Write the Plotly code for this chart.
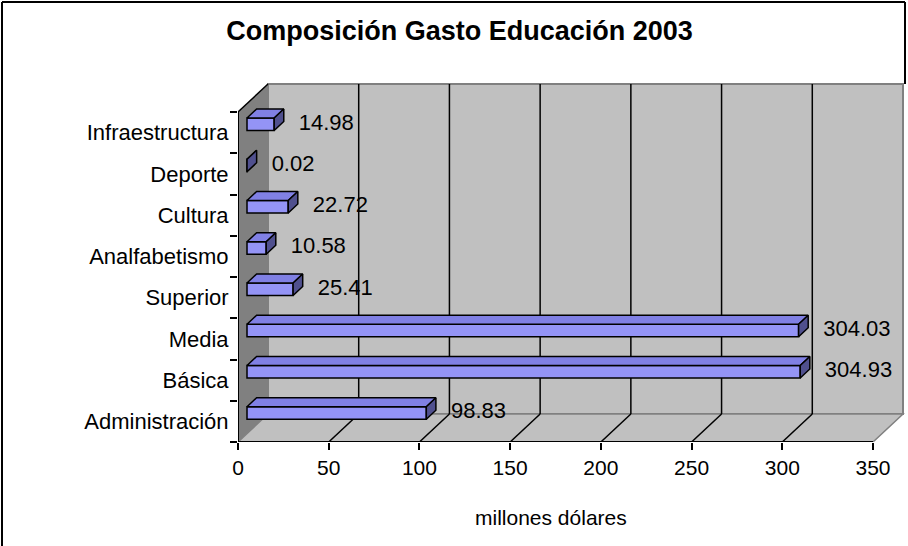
import plotly.graph_objects as go

# ---------------- data ----------------
categories = ["Administración", "Básica", "Media", "Superior",
              "Analfabetismo", "Cultura", "Deporte", "Infraestructura"]
values = [98.83, 304.93, 304.03, 25.41, 10.58, 22.72, 0.02, 14.98]
x_ticks = [0, 50, 100, 150, 200, 250, 300, 350]
title_text = "Composición Gasto Educación 2003"
x_title = "millones dólares"

# ---------------- geometry / style ----------------
W, H = 908, 546
L, R, T, B = 238, 2, 80, 104
PX_PER_UNIT = 635 / 350.0
CAT_PX = 41.25
DEPTH_PX = (30, 28)
FONT = "Liberation Sans, Arial, sans-serif"

xmax = (W - L - R) / PX_PER_UNIT
ymax = (H - B - T) / CAT_PX - 0.5
dxu = DEPTH_PX[0] / PX_PER_UNIT
dyu = DEPTH_PX[1] / CAT_PX
vmax = x_ticks[-1]
n = len(categories)
y0, y1 = -0.5, n - 0.5

f1, f2 = 0.3, 0.62         # depth fractions of bar front / back
wu = 12.5 / CAT_PX         # front face height (category units)
base = f1 * dxu
ddx = (f2 - f1) * dxu
ddy = (f2 - f1) * dyu
yc = [i + f1 * dyu for i in range(n)]


def ppx(px):
    return (px - L) / (W - L - R)


def ppy(py):
    return (H - B - py) / (H - B - T)


shapes = []


def path(pts):
    return "M " + " L ".join(f"{a},{b}" for a, b in pts) + " Z"


# side wall
shapes.append(dict(type="path", xref="x", yref="y", layer="below",
                   path=path([(0, y0), (0, y1), (dxu, y1 + dyu), (dxu, y0 + dyu)]),
                   fillcolor="#808080", line=dict(width=0)))
# back wall
shapes.append(dict(type="rect", xref="x", yref="y", layer="below",
                   x0=dxu, x1=vmax + dxu, y0=y0 + dyu, y1=y1 + dyu,
                   fillcolor="#C0C0C0", line=dict(color="#808080", width=2)))
# floor
shapes.append(dict(type="path", xref="x", yref="y", layer="below",
                   path=path([(0, y0), (vmax, y0), (vmax + dxu, y0 + dyu), (dxu, y0 + dyu)]),
                   fillcolor="#C0C0C0", line=dict(color="#808080", width=1.5)))
# side wall top edge
shapes.append(dict(type="line", xref="x", yref="y", layer="below",
                   x0=0, y0=y1, x1=dxu, y1=y1 + dyu, line=dict(color="black", width=1.5)))
# gridlines on back wall and floor
for v in x_ticks[1:-1]:
    shapes.append(dict(type="line", xref="x", yref="y", layer="below",
                       x0=v + dxu, x1=v + dxu, y0=y0 + dyu, y1=y1 + dyu,
                       line=dict(color="black", width=1.5)))
    shapes.append(dict(type="line", xref="x", yref="y", layer="below",
                       x0=v, x1=v + dxu, y0=y0, y1=y0 + dyu,
                       line=dict(color="black", width=1.5)))
# floor front edge and value axis line
shapes.append(dict(type="line", xref="x", yref="y", layer="above",
                   x0=0, x1=vmax, y0=y0, y1=y0, line=dict(color="black", width=2)))
shapes.append(dict(type="line", xref="x", yref="y", layer="above",
                   x0=0, x1=0, y0=y0, y1=y1, line=dict(color="black", width=2)))
# outer frame
shapes.append(dict(type="line", xref="paper", yref="paper",
                   x0=ppx(2), x1=ppx(2), y0=ppy(2), y1=ppy(H + 5), line=dict(color="black", width=2)))
shapes.append(dict(type="line", xref="paper", yref="paper",
                   x0=ppx(2), x1=ppx(905), y0=ppy(2), y1=ppy(2), line=dict(color="black", width=2)))
shapes.append(dict(type="line", xref="paper", yref="paper",
                   x0=ppx(905), x1=ppx(905), y0=ppy(2), y1=ppy(84), line=dict(color="black", width=2)))

fig = go.Figure()

# bar front faces
fig.add_trace(go.Bar(
    y=yc, x=values, base=base, orientation="h", width=wu,
    marker=dict(color="#9494F6", line=dict(color="black", width=1.5)),
    hoverinfo="skip", showlegend=False))

# top faces & end caps
tx, ty, cx, cy = [], [], [], []
for i, v in enumerate(values):
    xs0, xs1 = base, base + v
    yt = yc[i] + wu / 2
    yb = yc[i] - wu / 2
    tx += [xs0, xs1, xs1 + ddx, xs0 + ddx, xs0, None]
    ty += [yt, yt, yt + ddy, yt + ddy, yt, None]
    cx += [xs1, xs1, xs1 + ddx, xs1 + ddx, xs1, None]
    cy += [yb, yt, yt + ddy, yb + ddy, yb, None]

fig.add_trace(go.Scatter(x=tx, y=ty, mode="lines", fill="toself",
                         fillcolor="#8080E4", line=dict(color="black", width=1.5),
                         hoverinfo="skip", showlegend=False))
fig.add_trace(go.Scatter(x=cx, y=cy, mode="lines", fill="toself",
                         fillcolor="#50508E", line=dict(color="black", width=1.5),
                         hoverinfo="skip", showlegend=False))

# data labels
fig.add_trace(go.Scatter(
    x=[base + v + ddx + 15 / PX_PER_UNIT for v in values], y=yc,
    mode="text", text=[f"{v:.2f}" for v in values], textposition="middle right",
    textfont=dict(family=FONT, size=22, color="black"),
    hoverinfo="skip", showlegend=False, cliponaxis=False))

fig.add_annotation(text=x_title, xref="paper", yref="paper",
                   x=ppx(551), y=ppy(517), xanchor="center", yanchor="middle",
                   showarrow=False, font=dict(family=FONT, size=21, color="black"))

fig.update_layout(
    width=W, height=H,
    margin=dict(l=L, r=R, t=T, b=B, pad=0),
    paper_bgcolor="white", plot_bgcolor="white",
    title=dict(text="<b>" + title_text + "</b>", x=459.5 / W, xanchor="center",
               y=1 - 31 / H, yanchor="middle", xref="container", yref="container",
               font=dict(family=FONT, size=27, color="black")),
    font=dict(family=FONT, size=22, color="black"),
    shapes=shapes,
    xaxis=dict(range=[0, xmax], tickmode="array", tickvals=x_ticks,
               ticks="outside", ticklen=7, tickwidth=2, tickcolor="black",
               showgrid=False, zeroline=False, showline=False, automargin=False,
               fixedrange=True, tickfont=dict(family=FONT, size=21, color="black")),
    yaxis=dict(range=[y0, ymax], tickmode="array", tickvals=list(range(n)),
               ticktext=categories, ticks="outside", ticklen=4,
               tickcolor="rgba(0,0,0,0)", showgrid=False, zeroline=False,
               showline=False, automargin=False, fixedrange=True,
               tickfont=dict(family=FONT, size=22, color="black"),
               minor=dict(tickmode="array", tickvals=[y0 + k for k in range(n + 1)],
                          ticks="outside", ticklen=7, tickwidth=2, tickcolor="black",
                          showgrid=False)),
    bargap=0,
)

fig.write_html("out.html", config={"displayModeBar": False, "staticPlot": True},
               post_script="document.body.style.margin='0';")
